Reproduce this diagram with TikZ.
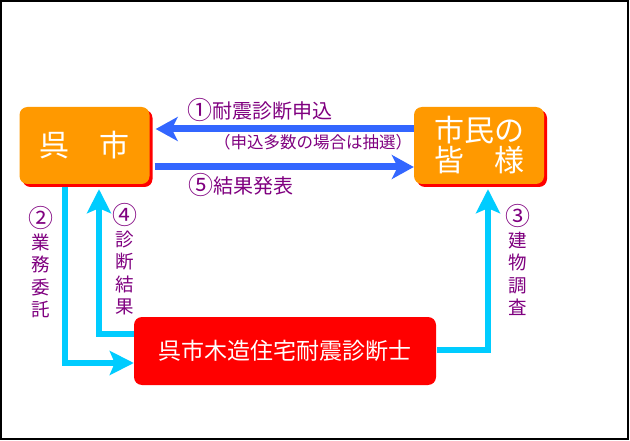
\documentclass[tikz,border=0pt]{standalone}
\usepackage{fontspec}
\setmainfont{Noto Sans CJK JP}
\usetikzlibrary{arrows.meta,shadows}
\definecolor{orbox}{RGB}{255,153,0}
\definecolor{arrblue}{RGB}{51,102,255}
\definecolor{arrcyan}{RGB}{0,204,255}
\definecolor{lblpurple}{RGB}{128,0,128}
\newcommand{\circnum}[1]{{\fontsize{25}{19}\selectfont\raisebox{-0.5pt}{#1}}}
\tikzset{
  orangebox/.style={fill=orbox, rounded corners=8pt, minimum width=130pt, minimum height=77pt,
    text=white, inner sep=0pt, drop shadow={shadow xshift=3pt, shadow yshift=-3pt, fill=red, opacity=1}},
  redbox/.style={fill=red, rounded corners=8pt, minimum width=302pt, minimum height=68pt,
    text=white, inner sep=0pt, font=\fontsize{23}{23}\selectfont},
  lbl/.style={text=lblpurple, inner sep=0pt},
  vlbl/.style={lbl, align=center, font=\fontsize{18.5}{22.5}\selectfont},
  bluearr/.style={draw=arrblue, line width=7pt, -{Stealth[length=22pt,width=24pt,inset=6pt]}},
  cyanarr/.style={draw=arrcyan, line width=6pt, line join=miter, -{Stealth[length=24pt,width=24pt,inset=5pt]}}
}
\begin{document}
\begin{tikzpicture}[x=1pt,y=-1pt]
\useasboundingbox (0,0) rectangle (630,441);
\fill[white] (0,0) rectangle (630,441);
\draw[line width=1.5pt] (1,1) rectangle (628,439);

\node[orangebox, font=\fontsize{30}{30}\selectfont] (kure) at (84.5,145.5) {呉　市};
\node[orangebox, align=left, font=\fontsize{30}{30}\selectfont] (cit) at (479,145.5) {市民の\\皆　様};
\node[redbox] (red) at (285,351) {呉市木造住宅耐震診断士};

\coordinate (ya) at (0,129);
\coordinate (yb) at (0,167);
\draw[bluearr] (cit.west |- ya) -- ([xshift=6pt]kure.east |- ya);
\draw[bluearr] ([xshift=5pt]kure.east |- yb) -- (cit.west |- yb);

\draw[cyanarr] ([xshift=-19.5pt,yshift=-3pt]kure.south) |- ([yshift=-12pt]red.west);
\draw[cyanarr] ([yshift=17pt]red.west) -| ([xshift=14.5pt,yshift=-5pt]kure.south);
\draw[cyanarr] ([xshift=1pt,yshift=1pt]red.east) -| ([xshift=9pt,yshift=-5pt]cit.south);

\node[lbl, anchor=west, font=\fontsize{20}{20}\selectfont] (l1) at (187,110) {\circnum{①}耐震診断申込};
\node[lbl, font=\fontsize{16.5}{16.5}\selectfont] (l1b) at (313,142) {（申込多数の場合は抽選）};
\node[lbl, anchor=west, font=\fontsize{20}{20}\selectfont] (l5) at (188,185) {\circnum{⑤}結果発表};

\node[vlbl] (l2) at (41,262) {\circnum{②}\\業\\務\\委\\託};
\node[vlbl] (l4) at (125,259) {\circnum{④}\\診\\断\\結\\果};
\node[vlbl] (l3) at (518,260) {\circnum{③}\\建\\物\\調\\査};
\end{tikzpicture}
\end{document}
